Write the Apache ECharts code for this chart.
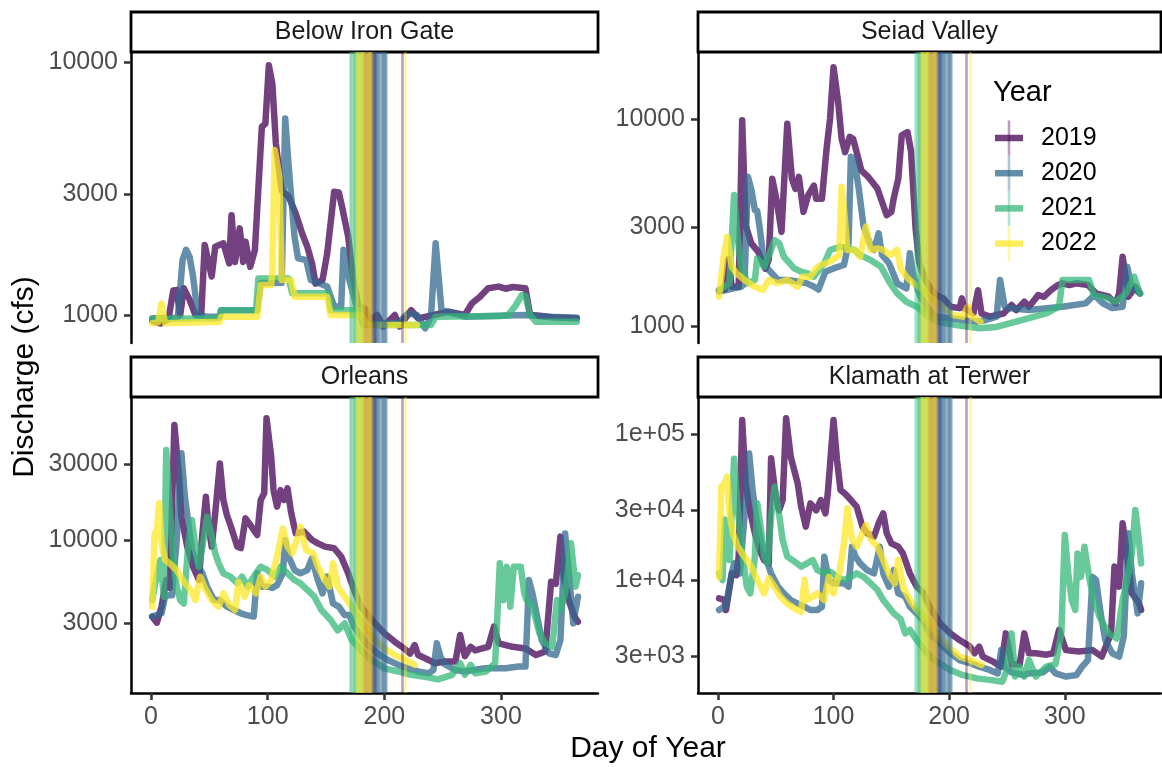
<!DOCTYPE html>
<html>
<head>
<meta charset="utf-8">
<script src="https://cdn.jsdelivr.net/npm/echarts@6/dist/echarts.min.js"></script>
<style>
  html, body { margin: 0; padding: 0; background: #fff; }
  #chart { width: 1162px; height: 767px; }
</style>
</head>
<body>
<div id="chart"></div>
<script>
// ---- data (day of year, discharge in cfs) ----
const years = ["2019", "2020", "2021", "2022"];
const sites = ["Below Iron Gate", "Seiad Valley", "Orleans", "Klamath at Terwer"];

const ironGate2019 = [[1,950],[8,925],[15,965],[19,1250],[22,1255],[25,1000],[28,1275],[33,1150],[38,1000],[43,1000],[46,1890],[52,1420],[55,1860],[62,1920],[67,1600],[69,2480],[72,1620],[76,2200],[79,1620],[81,1950],[85,1550],[89,1800],[95,5550],[98,5700],[101,9700],[104,8200],[107,4770],[112,3100],[118,2940],[124,2520],[130,2070],[134,1860],[138,1600],[141,1330],[147,1375],[151,1750],[157,3070],[161,3050],[164,2640],[169,2040],[173,1420],[178,1080],[183,1060],[187,955],[194,1000],[199,900],[209,1000],[213,900],[223,1045],[229,970],[255,1030],[269,1000],[275,1110],[282,1180],[289,1275],[298,1295],[304,1270],[310,1290],[321,1275],[325,1000],[335,990],[344,980],[365,970]];
const ironGate2020 = [[1,970],[20,975],[23,985],[25,1270],[27,1650],[30,1810],[33,1700],[36,1420],[40,1000],[48,985],[59,985],[60,1045],[91,1045],[94,1335],[112,1340],[115,5980],[118,3850],[123,2040],[126,1675],[133,1650],[137,1375],[151,1295],[157,1080],[163,1080],[165,1810],[170,1375],[177,1045],[183,927],[212,927],[220,1015],[228,1000],[235,885],[240,985],[244,1920],[249,1045],[269,985],[321,1000],[340,985],[365,975]];
const ironGate2021 = [[1,965],[58,970],[60,1045],[90,1045],[92,1395],[118,1395],[121,1218],[152,1218],[154,1045],[179,1045],[182,913],[240,913],[244,985],[300,990],[306,1000],[312,1080],[318,1200],[321,1190],[325,1000],[330,940],[365,940]];
const ironGate2022 = [[1,927],[6,935],[9,1110],[12,927],[59,940],[60,985],[91,985],[94,1315],[103,1315],[104,1500],[106,4490],[110,3525],[112,1375],[120,1375],[123,1180],[151,1180],[154,1000],[180,1000],[186,913],[228,913]];

const seiad2019 = [[1,1490],[6,1500],[9,2100],[12,1550],[18,1550],[21,9860],[24,3060],[29,2500],[35,2280],[41,1890],[44,2100],[47,5150],[51,3980],[55,2850],[60,9480],[64,5150],[67,4600],[70,5250],[74,3560],[78,4280],[83,4770],[85,4120],[90,4120],[94,7200],[97,10050],[100,17800],[104,12080],[107,8030],[110,6920],[114,8200],[117,8000],[120,6920],[124,5650],[130,5250],[133,5000],[138,4600],[141,4120],[146,3430],[150,3560],[152,4120],[156,5150],[159,8340],[164,8650],[167,7000],[171,2950],[174,2035],[179,1690],[184,1515],[189,1410],[195,1360],[201,1240],[209,1220],[211,1360],[213,1220],[221,1150],[225,1490],[228,1150],[235,1110],[247,1150],[254,1263],[258,1195],[265,1310],[269,1240],[277,1410],[282,1385],[288,1490],[294,1578],[298,1608],[304,1578],[310,1608],[320,1578],[327,1438],[338,1385],[344,1287],[347,1438],[350,2160],[353,1667],[355,1385],[361,1547],[365,1438]];
const seiad2020 = [[1,1465],[20,1547],[23,1600],[26,5260],[29,4540],[32,3630],[34,3600],[36,3020],[40,2010],[44,1865],[52,1670],[60,1670],[69,1640],[77,1608],[83,1550],[87,1500],[93,1830],[100,1898],[109,1972],[113,2510],[115,6580],[118,6340],[122,4540],[126,3020],[132,2460],[135,2330],[139,2805],[142,2200],[148,2010],[155,1608],[163,1520],[166,2245],[169,1750],[175,1385],[183,1195],[189,1110],[201,1090],[212,1070],[224,1050],[232,1070],[241,1110],[244,1670],[248,1240],[253,1220],[269,1195],[298,1240],[318,1287],[324,1385],[327,1385],[333,1287],[341,1220],[350,1240],[354,1935],[357,1608],[361,1493],[365,1438]];
const seiad2021 = [[1,1493],[10,1608],[14,4300],[17,2700],[20,1935],[26,1608],[32,1670],[34,2120],[40,1935],[46,2330],[49,2600],[53,2510],[57,2160],[66,1898],[72,1830],[77,1800],[83,1730],[92,2010],[97,2330],[106,2420],[118,2330],[123,2200],[132,2085],[141,1935],[149,1608],[155,1440],[163,1310],[172,1240],[183,1110],[189,1050],[206,1010],[226,975],[241,990],[258,1050],[284,1150],[295,1240],[298,1670],[321,1670],[325,1412],[338,1360],[344,1310],[353,1440],[360,1730],[365,1438]];
const seiad2022 = [[1,1386],[5,2160],[8,2700],[12,1935],[16,1800],[23,1670],[32,1547],[39,1493],[44,1670],[52,1608],[60,1670],[69,1547],[73,1730],[80,1730],[85,1898],[89,1972],[97,2050],[105,2200],[107,4710],[109,3700],[112,2330],[118,2330],[123,2160],[128,3020],[132,2330],[138,2370],[143,2330],[149,2200],[155,2330],[158,1898],[163,1730],[169,1608],[178,1493],[183,1386],[192,1263],[203,1130],[212,1110],[216,1240],[218,1130],[227,1050]];

const orleans2019 = [[1,3300],[5,3020],[9,3810],[13,5600],[16,5000],[20,52900],[24,25000],[26,14000],[31,9080],[36,6790],[41,5600],[44,11000],[47,18700],[49,12730],[52,9080],[55,14700],[59,30300],[62,17840],[65,14360],[68,12430],[74,9080],[77,8900],[81,13680],[85,12430],[91,10750],[94,17840],[97,19700],[99,58200],[103,33400],[105,20600],[108,16200],[111,20600],[114,17840],[117,21100],[120,15000],[124,11000],[131,11300],[138,10000],[143,9530],[149,9080],[157,8870],[163,7860],[169,6170],[174,4850],[180,3810],[186,3370],[192,2990],[200,2590],[209,2290],[217,2080],[222,1930],[226,2180],[229,1890],[238,1760],[243,1680],[252,1720],[261,1720],[265,2530],[269,1860],[274,2130],[278,2020],[284,2080],[289,2130],[294,2850],[298,2240],[310,2130],[321,2080],[330,1890],[338,1990],[343,5470],[347,5300],[351,10500],[354,5880],[358,4190],[363,3300],[366,3060]];
const orleans2020 = [[1,3300],[9,3460],[12,4400],[15,4500],[18,4500],[22,10000],[26,35100],[29,18700],[32,12730],[35,8650],[39,7130],[44,6170],[48,5090],[54,4190],[59,4190],[65,3810],[71,3630],[77,3460],[82,3370],[88,3300],[91,6170],[95,5090],[100,5090],[104,5000],[108,5200],[113,6170],[115,10000],[118,7860],[123,6470],[128,6170],[134,6470],[138,7670],[143,5600],[147,4620],[151,5880],[156,3990],[161,3810],[166,3370],[170,3370],[174,2850],[180,2480],[186,2180],[194,1940],[203,1760],[212,1640],[220,1560],[229,1490],[238,1450],[242,1520],[245,2240],[248,1860],[251,1670],[261,1520],[269,1490],[286,1560],[304,1560],[315,1600],[321,1600],[324,5600],[327,4620],[331,3300],[335,2350],[341,1940],[347,1890],[351,2350],[355,11000],[358,6470],[362,2990],[366,4400]];
const orleans2021 = [[1,4190],[3,5090],[8,7490],[11,4400],[13,36800],[16,15430],[19,7490],[22,5090],[25,4190],[28,3990],[32,9530],[35,13350],[38,9080],[41,6790],[45,10000],[48,14020],[51,11500],[55,8240],[58,7130],[62,6170],[68,5880],[74,5340],[78,5880],[83,5090],[88,5880],[94,6790],[100,6470],[106,5880],[111,6790],[117,6170],[123,5600],[128,5340],[134,4850],[140,4400],[146,3630],[154,3140],[160,2700],[166,2990],[172,2350],[180,2030],[189,1760],[200,1560],[212,1490],[223,1420],[235,1380],[246,1330],[258,1420],[265,1680],[269,1420],[274,1640],[278,1450],[287,1490],[295,1680],[299,7130],[302,4190],[305,6790],[308,3810],[311,6790],[314,6790],[317,6790],[320,4620],[322,4190],[327,3810],[333,2590],[338,2240],[344,2130],[348,4190],[351,3630],[355,4620],[360,9530],[364,5090],[366,6000]];
const orleans2022 = [[1,3810],[3,11000],[5,11500],[7,17000],[9,9530],[12,7490],[16,7130],[22,6470],[28,5470],[34,4850],[38,4190],[42,5880],[47,4850],[52,4190],[58,3810],[62,4620],[67,3900],[72,3630],[75,5470],[80,4400],[84,5200],[90,4620],[94,5880],[98,5090],[103,5600],[108,7860],[113,11840],[117,9080],[121,8240],[126,10500],[128,12130],[133,8650],[139,8240],[143,6790],[149,5600],[153,5090],[156,7130],[160,5090],[166,4400],[172,3810],[177,3300],[183,2850],[192,2350],[200,2080],[209,1890],[218,1760],[226,1640]];

const terwer2019 = [[1,7480],[6,7300],[7,6230],[12,11100],[16,10800],[18,14500],[21,124800],[24,45900],[27,31800],[32,20900],[36,16100],[40,13700],[44,13000],[46,68100],[50,37200],[53,30000],[56,35300],[59,128000],[63,69800],[66,56600],[69,45900],[72,31800],[76,23200],[80,33500],[85,30000],[89,35300],[93,28600],[95,39000],[100,124800],[103,66500],[106,41400],[110,39000],[115,35300],[120,31800],[125,23200],[129,20900],[135,19800],[139,24500],[143,28600],[146,20900],[150,17800],[156,16900],[160,15200],[166,11100],[172,9000],[178,8100],[183,6560],[192,5050],[201,4310],[209,3880],[218,3500],[222,3150],[226,3500],[229,2990],[238,2760],[245,2550],[249,4310],[254,2650],[261,2650],[265,4310],[269,3150],[275,3150],[284,3080],[290,3150],[295,4550],[301,3310],[312,3240],[324,3310],[332,2990],[340,4310],[343,12350],[347,9000],[350,24500],[354,14450],[358,8100],[364,7000],[366,6230]];
const terwer2020 = [[1,6230],[7,6700],[12,11100],[14,13000],[19,11100],[23,27100],[27,73600],[30,41400],[33,27100],[37,18800],[42,13700],[46,11100],[52,9000],[57,8100],[63,7290],[69,6900],[75,6560],[80,6230],[86,6230],[90,6560],[92,14450],[96,10000],[100,9500],[105,9500],[109,9500],[113,9000],[116,16900],[119,14450],[123,13000],[129,11700],[135,11100],[140,16900],[143,11100],[148,9000],[152,11700],[156,8100],[162,7690],[166,6560],[172,5910],[178,5200],[183,4310],[192,3680],[201,3150],[209,2830],[218,2690],[226,2550],[235,2420],[242,2290],[245,3310],[248,2550],[254,2330],[264,2230],[269,2290],[281,2330],[287,2550],[292,2290],[301,2180],[310,2230],[315,2550],[320,2830],[324,10500],[327,10000],[331,5910],[335,3880],[341,3150],[347,2990],[351,4100],[355,20900],[358,11100],[363,5910],[366,9500]];
const terwer2021 = [[1,11100],[4,10000],[6,26000],[8,20000],[10,13700],[14,67800],[17,31800],[21,15200],[25,9000],[28,8100],[32,14450],[34,33500],[37,23200],[40,14450],[43,13000],[46,27100],[49,43600],[52,31800],[56,18800],[60,14450],[66,13400],[72,12350],[77,13000],[82,13700],[86,11700],[92,11100],[97,11400],[103,10500],[109,10000],[115,10500],[120,11100],[126,10500],[132,9500],[138,8540],[143,7290],[152,5910],[158,5400],[162,4310],[166,4550],[172,3880],[181,3150],[189,2760],[201,2420],[212,2230],[224,2120],[235,2070],[246,2010],[249,2330],[254,4310],[257,2180],[261,2550],[265,2180],[269,2830],[275,2180],[284,2550],[292,2650],[297,4310],[300,20300],[303,11100],[306,7290],[309,6230],[311,15200],[314,10500],[317,16900],[321,10500],[325,7290],[330,5600],[338,4310],[345,3970],[350,7290],[354,10000],[358,15200],[361,30200],[364,19000],[366,13000]];
const terwer2022 = [[1,10500],[3,43600],[6,46000],[8,51000],[10,28600],[13,20900],[17,17000],[23,14450],[29,12350],[34,10000],[40,8100],[44,10300],[49,9000],[54,7690],[60,6900],[66,6400],[72,6060],[75,10000],[77,7290],[82,7690],[86,8100],[92,7290],[96,10500],[100,8100],[105,11100],[109,17800],[112,31000],[116,19000],[120,16900],[125,21000],[128,23800],[132,19000],[138,16900],[143,13700],[149,10500],[153,9500],[156,13700],[160,9000],[166,7290],[172,6230],[178,5610],[183,5050],[192,3990],[201,3400],[209,2990],[218,2830],[228,2620]];

// days marked with vertical lines, per year
const vline2019 = [182,183,184,185,186,187,188,189,190,191,192,215];
const vline2020 = [190,191,192,193,194,195,196,197,198,199,200,201,202];
const vline2021 = [171,172,173,174,175,176,177,178,179,180,181];
const vline2022 = [176,177,178,179,180,181,182,183,184,185,186,187,188,189,218];

// axis ticks
const dayTicks = [0, 100, 200, 300];
const ticksIronGate = [1000, 3000, 10000];
const ticksSeiad = [1000, 3000, 10000];
const ticksOrleans = [3000, 10000, 30000];
const ticksTerwer = [3000, 10000, 30000, 100000];
const labelsTerwer = ["3e+03", "1e+04", "3e+04", "1e+05"];

// ---- chart ----
const colors = ["#440154", "#31688E", "#35B779", "#FDE725"];
const font = "Liberation Sans, Arial, Helvetica, sans-serif";

const seriesData = [
  [ironGate2019, ironGate2020, ironGate2021, ironGate2022],
  [seiad2019, seiad2020, seiad2021, seiad2022],
  [orleans2019, orleans2020, orleans2021, orleans2022],
  [terwer2019, terwer2020, terwer2021, terwer2022],
];
const vlineDays = [vline2019, vline2020, vline2021, vline2022];

const panels = [
  { left: 131, top: 52, width: 467, height: 291, yMin: 775, yMax: 10950, ticks: ticksIronGate },
  { left: 698, top: 52, width: 463, height: 291, yMin: 828, yMax: 21070, ticks: ticksSeiad },
  { left: 131, top: 397, width: 467, height: 296, yMin: 1091, yMax: 79300, ticks: ticksOrleans },
  { left: 698, top: 397, width: 463, height: 296, yMin: 1683, yMax: 179200, ticks: ticksTerwer, labels: labelsTerwer },
];

const tickLabel = (p) => (v) => {
  const k = p.ticks.findIndex((t) => Math.abs(t - v) / t < 1e-6);
  if (k < 0) return "";
  return p.labels ? p.labels[k] : String(p.ticks[k]);
};

const series = [];
panels.forEach((p, i) => {
  years.forEach((y, j) => {
    series.push({
      name: y,
      type: "line",
      xAxisIndex: i,
      yAxisIndex: i,
      data: seriesData[i][j],
      showSymbol: false,
      symbol: "none",
      lineStyle: { color: colors[j], width: 6.5, opacity: 0.75, cap: "round", join: "round" },
      itemStyle: { color: colors[j] },
      emphasis: { disabled: true },
      markLine: {
        silent: true,
        symbol: ["none", "none"],
        label: { show: false },
        emphasis: { disabled: true },
        lineStyle: { color: colors[j], width: 2.6, opacity: 0.38, type: "solid" },
        data: vlineDays[j].map((d) => ({ xAxis: d })),
      },
    });
  });
});

const graphic = [];
panels.forEach((p, i) => {
  // facet strip
  graphic.push({
    type: "rect",
    shape: { x: p.left, y: p.top - 40, width: p.width, height: 40 },
    style: { fill: "#fff", stroke: "#000", lineWidth: 2.8 },
  });
  graphic.push({
    type: "text",
    x: p.left + p.width / 2,
    y: p.top - 20,
    style: { text: sites[i], fill: "#1a1a1a", font: "25px " + font, align: "center", verticalAlign: "middle" },
  });
});
// axis titles
graphic.push({
  type: "text", x: 25, y: 377, rotation: Math.PI / 2,
  style: { text: "Discharge (cfs)", fill: "#000", font: "30px " + font, align: "center", verticalAlign: "middle" },
});
graphic.push({
  type: "text", x: 648, y: 749,
  style: { text: "Day of Year", fill: "#000", font: "30px " + font, align: "center", verticalAlign: "middle" },
});
// legend
graphic.push({
  type: "text", x: 993, y: 93,
  style: { text: "Year", fill: "#000", font: "29px " + font, align: "left", verticalAlign: "middle" },
});
years.forEach((y, j) => {
  const cy = 138 + 35.2 * j;
  graphic.push({
    type: "line",
    shape: { x1: 1009, y1: cy - 17.6, x2: 1009, y2: cy + 17.6 },
    style: { stroke: colors[j], lineWidth: 2.6, opacity: 0.38 },
  });
  graphic.push({
    type: "line",
    shape: { x1: 995, y1: cy, x2: 1023, y2: cy },
    style: { stroke: colors[j], lineWidth: 6.5, opacity: 0.75, lineCap: "butt" },
  });
  graphic.push({
    type: "text", x: 1041, y: cy,
    style: { text: y, fill: "#000", font: "25px " + font, align: "left", verticalAlign: "middle" },
  });
});

const chart = echarts.init(document.getElementById("chart"), null, { renderer: "canvas" });
chart.setOption({
  animation: false,
  backgroundColor: "#fff",
  textStyle: { fontFamily: font },
  grid: panels.map((p) => ({
    left: p.left, top: p.top, width: p.width, height: p.height,
    containLabel: false, outerBoundsMode: "none",
  })),
  xAxis: panels.map((p, i) => ({
    type: "value",
    gridIndex: i,
    min: -17.2,
    max: 383.2,
    axisLine: { show: i >= 2, onZero: false, lineStyle: { color: "#000", width: 2.5 } },
    axisTick: { show: i >= 2, length: 7, customValues: dayTicks, lineStyle: { color: "#333", width: 2.5 } },
    axisLabel: { show: i >= 2, customValues: dayTicks, margin: 12, color: "#4d4d4d", fontSize: 25, fontFamily: font },
    splitLine: { show: false },
  })),
  yAxis: panels.map((p, i) => ({
    type: "log",
    logBase: 10,
    gridIndex: i,
    min: p.yMin,
    max: p.yMax,
    axisLine: { show: true, onZero: false, lineStyle: { color: "#000", width: 2.5 } },
    axisTick: { show: true, length: 7, customValues: p.ticks, lineStyle: { color: "#333", width: 2.5 } },
    axisLabel: { customValues: p.ticks, margin: 13, color: "#4d4d4d", fontSize: 25, fontFamily: font, formatter: tickLabel(p) },
    splitLine: { show: false },
    minorTick: { show: false },
  })),
  series: series,
  graphic: graphic,
});
</script>
</body>
</html>
